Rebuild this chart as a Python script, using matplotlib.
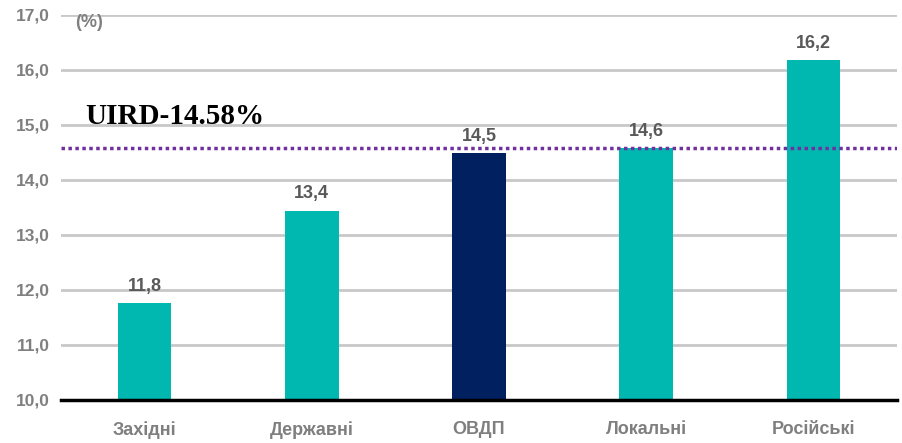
import matplotlib
matplotlib.use('Agg')
import matplotlib.pyplot as plt
import matplotlib.patches as patches

# data
categories = ['Західні', 'Державні', 'ОВДП', 'Локальні', 'Російські']
values = [11.76, 13.44, 14.49, 14.58, 16.18]
bar_colors = ['#00B8B0', '#00B8B0', '#002060', '#00B8B0', '#00B8B0']
uird = 14.58
y_ticks = [10, 11, 12, 13, 14, 15, 16, 17]

plt.rcParams['font.family'] = ['Liberation Sans', 'DejaVu Sans']

grey = '#7F7F7F'
fig = plt.figure(figsize=(9.02, 4.43), dpi=100)
ax = fig.add_axes([61 / 902, 1 - 400 / 443, 836 / 902, 385 / 443])

x = list(range(len(categories)))
ax.bar(x, values, width=0.32, bottom=0, color=bar_colors, zorder=3)
ax.set_ylim(10, 17)
ax.set_xlim(-0.5, len(categories) - 0.5)

ax.set_yticks(y_ticks)
ax.set_yticklabels([('%.1f' % t).replace('.', ',') for t in y_ticks],
                   fontsize=12.5, fontweight='bold', color=grey)
ax.yaxis.grid(True, color='#C8C8C8', linewidth=2, zorder=0)
ax.tick_params(axis='y', length=0, pad=8)

ax.set_xticks(x)
ax.set_xticklabels(categories, fontsize=13, fontweight='bold', color=grey)
ax.tick_params(axis='x', length=0, pad=15)

for s in ['top', 'right', 'left']:
    ax.spines[s].set_visible(False)
ax.spines['bottom'].set_linewidth(2.5)
ax.spines['bottom'].set_color('black')
ax.spines['bottom'].set_zorder(4)

for xi, v in zip(x, values):
    ax.annotate(('%.1f' % v).replace('.', ','), (xi, v), xytext=(0, 6),
                textcoords='offset points', ha='center', va='bottom',
                fontsize=13, fontweight='bold', color='#595959', zorder=5)

ax.axhline(uird, color='#7030A0', linewidth=2.5, linestyle=(0, (1, 1)), zorder=4)

# white boxes that hide gridline behind the labels
ax.add_patch(patches.Rectangle((-0.464, 14.9), 1.41, 0.2, facecolor='white',
                               edgecolor='none', zorder=1))
ax.add_patch(patches.Rectangle((-0.44, 16.9), 0.215, 0.2, facecolor='white',
                               edgecolor='none', zorder=1))

ax.text(0.18, 15.15, 'UIRD-14.58%', fontsize=21, fontweight='bold',
        family='Liberation Serif', color='black', ha='center', va='center', zorder=5)

ax.text(-0.333, 16.86, '(%)', fontsize=13, fontweight='bold', color=grey,
        ha='center', va='center', zorder=5)

fig.savefig('out.png', dpi=100)
